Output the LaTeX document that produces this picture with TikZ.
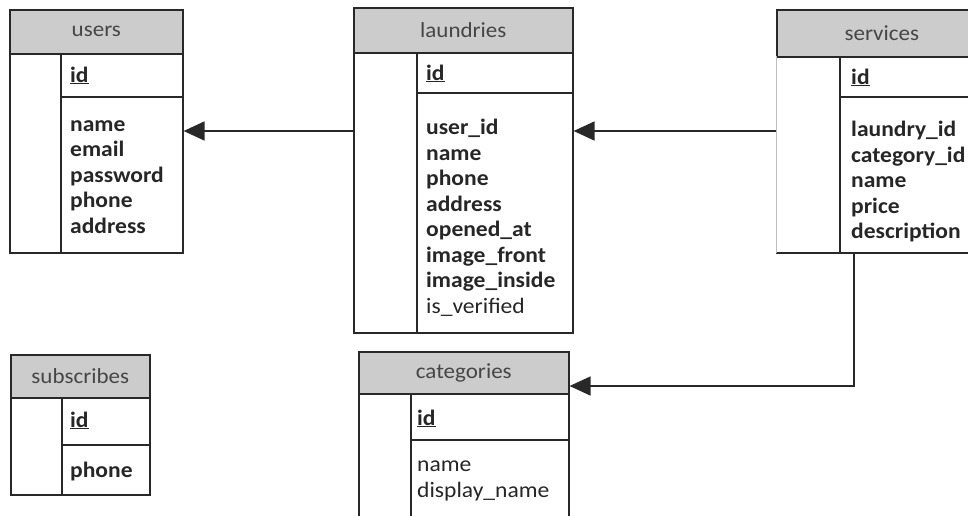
\documentclass[tikz,border=0pt]{standalone}
\usepackage{fontspec}
\setmainfont{Carlito}[FakeStretch=1.07]
\usetikzlibrary{arrows.meta}
\definecolor{hdrfill}{RGB}{204,204,204}
\definecolor{linec}{RGB}{40,40,40}
\definecolor{hdrtext}{RGB}{70,70,70}
\tikzset{
  x=1pt, y=-1pt,
  boxline/.style={draw=linec, line width=1.6pt},
  hdr/.style={boxline, fill=hdrfill, anchor=north west, inner sep=0pt, text=hdrtext,
     font=\fontsize{21.5}{26}\selectfont},
  bodyb/.style={boxline, anchor=north west, inner sep=0pt},
  fld/.style={anchor=base west, inner sep=0pt, text=black!85, font=\fontsize{22}{25.5}\selectfont},
  fldb/.style={fld, font=\fontsize{22}{25.5}\selectfont\bfseries},
  fk/.style={draw=linec, line width=1.8pt, -{Triangle[length=21pt,width=19pt]}},
}
\begin{document}
\begin{tikzpicture}
\useasboundingbox (0,0) rectangle (968,515);
\clip (0,0) rectangle (968,515);
% ---------------- users
\node[bodyb, minimum width=173pt, minimum height=199pt] (ub) at (9,53) {};
\node[hdr, minimum width=173pt, minimum height=44pt] (uh) at (9,9) {users};
\draw[boxline] (61,53) -- (61,252);
\draw[boxline] (61,97) -- (182,97);
\node[fldb] (uid) at (70,82) {\underline{id}};
\node[fldb, align=left, anchor=north west] (uf) at (70,120)
  {name\\email\\password\\phone\\address};
% ---------------- laundries
\node[bodyb, minimum width=219pt, minimum height=280pt] (lb) at (353,52) {};
\node[hdr, minimum width=219pt, minimum height=45pt] (lh) at (353,7) {laundries};
\draw[boxline] (417,52) -- (417,332);
\draw[boxline] (417,93) -- (572,93);
\node[fldb] (lid) at (426,80) {\underline{id}};
\node[fld, align=left, anchor=north west] (lf) at (426,119)
  {\textbf{user\_id}\\\textbf{name}\\\textbf{phone}\\\textbf{address}\\\textbf{opened\_at}\\\textbf{image\_front}\\\textbf{image\_inside}\\is\_verified};
% ---------------- services
\node[hdr, minimum width=210pt, minimum height=47pt] (sh) at (776,9) {services};
\draw[boxline] (776,253) -- (990,253);
\draw[boxline] (840,56) -- (840,253);
\draw[boxline] (840,97) -- (990,97);
\draw[draw=linec!30, line width=0.8pt] (776,56) -- (776,253);
\node[fldb] (sid) at (851,84) {\underline{id}};
\node[fldb, align=left, anchor=north west] (sf) at (851,121)
  {laundry\_id\\category\_id\\name\\price\\description};
% ---------------- subscribes
\node[bodyb, minimum width=139pt, minimum height=97pt] (bb) at (10,397) {};
\node[hdr, minimum width=139pt, minimum height=43pt] (bh) at (10,354) {subscribes};
\draw[boxline] (62,397) -- (62,494);
\draw[boxline] (62,445) -- (149,445);
\node[fldb] (bid) at (70,427) {\underline{id}};
\node[fldb] (bph) at (70,477) {phone};
% ---------------- categories
\node[bodyb, minimum width=210pt, minimum height=140pt] (cb) at (358,393) {};
\node[hdr, minimum width=210pt, minimum height=42pt] (ch) at (358,351) {categories};
\draw[boxline] (411,393) -- (411,530);
\draw[boxline] (411,440) -- (568,440);
\node[fldb] (cid) at (417,425) {\underline{id}};
\node[fld, align=left, anchor=north west] (cf) at (417,461) {name\\display\_name};
% ---------------- connectors
\coordinate (r1) at (0,131);
\coordinate (r2) at (0,386);
\coordinate (sx) at (854,0);
\draw[fk] (lb.west |- r1) -- (ub.east |- r1);
\draw[fk] (sh.south west |- r1) -- (lb.east |- r1);
\draw[fk] (sx |- 0,253) -- (sx |- r2) -- (ch.east |- r2);
\end{tikzpicture}
\end{document}
